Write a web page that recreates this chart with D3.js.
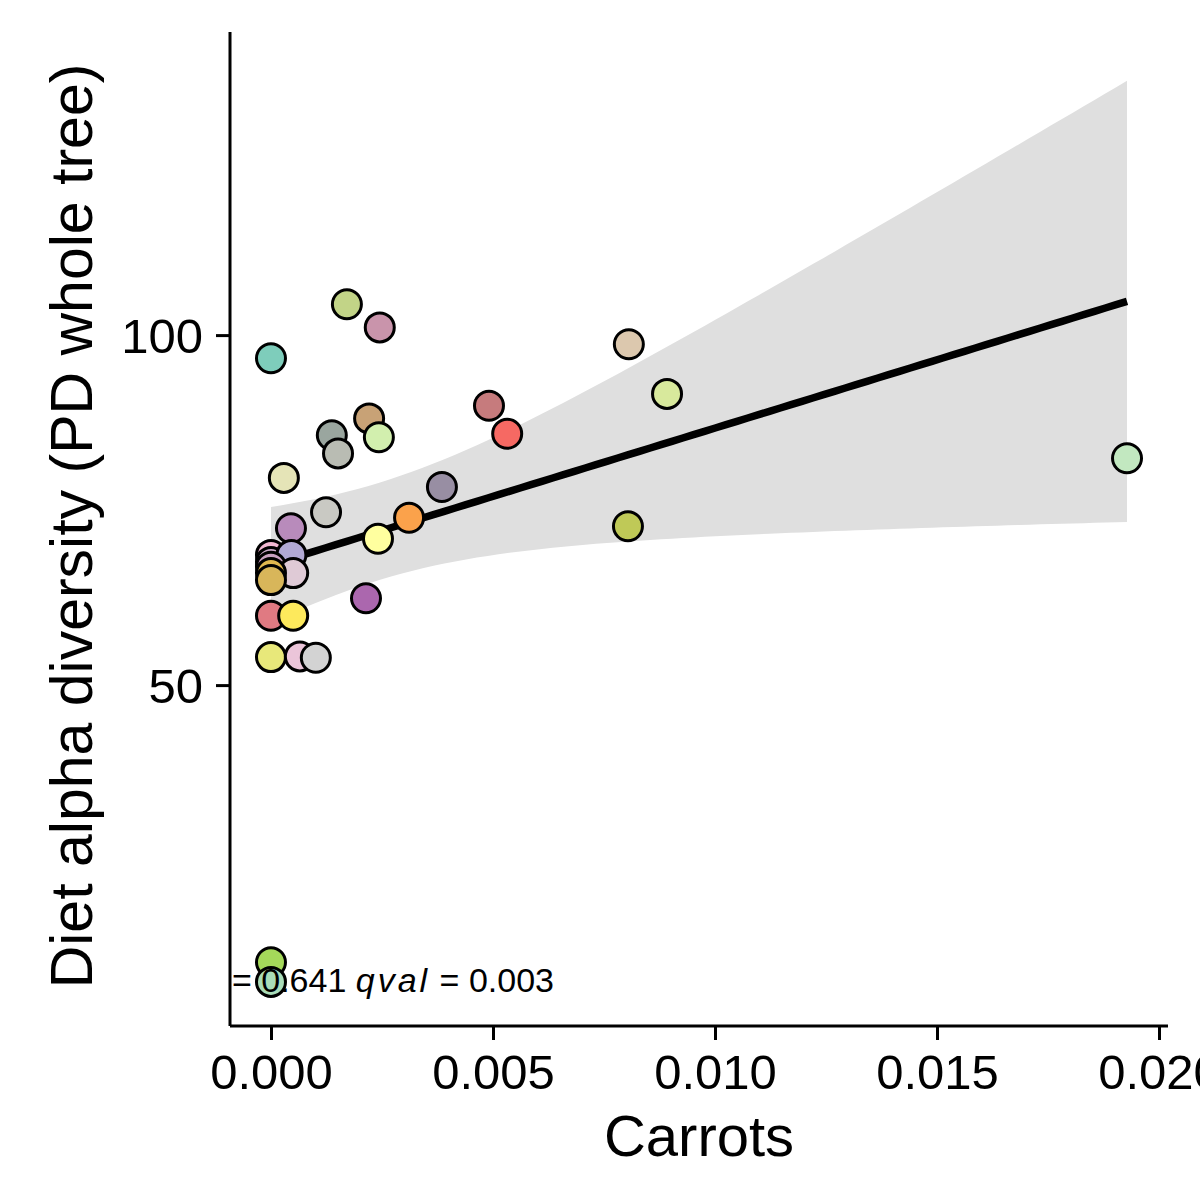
<!DOCTYPE html>
<html>
<head>
<meta charset="utf-8">
<script src="https://cdn.jsdelivr.net/npm/d3@7"></script>
<style>
  html, body { margin: 0; padding: 0; background: #fff; }
  svg { display: block; font-family: "Liberation Sans", Arial, sans-serif; }
</style>
</head>
<body>
<div id="chart"></div>
<script>
// carrot intake (fraction of diet) per subject
var carrots = [
  0.0000, 0.00171, 0.00245, 0.00221, 0.00243, 0.00137, 0.00151, 0.00029,
  0.00124, 0.00045, 0.00241, 0.00311, 0.00385, 0.00491, 0.00532, 0.00806,
  0.00892, 0.00804, 0.01928, 0.00214, 0.0000, 0.00050, 0.0000, 0.00065,
  0.00101, 0.0000, 0.0000, 0.0000, 0.0000, 0.00046, 0.0000, 0.00050,
  0.0000, 0.0000
];
// diet alpha diversity (PD whole tree) per subject
var diversity = [
  96.7, 104.4, 101.1, 88.1, 85.4, 85.7, 83.1, 79.6,
  74.7, 72.4, 70.9, 73.9, 78.3, 89.9, 85.9, 98.7,
  91.6, 72.7, 82.4, 62.4, 59.9, 59.9, 54.0, 54.1,
  53.9, 10.4, 7.6, 68.6, 67.6, 68.6, 66.9, 66.0,
  66.0, 65.0
];
// one fill colour per subject
var subjectFill = [
  "#7ecdbb", "#c2d487", "#c994ab", "#c8a276", "#d2efae", "#9aa69f", "#b9bcb3", "#e5e4b7",
  "#c9c9c3", "#b88bbb", "#ffff9f", "#fba24b", "#988ea3", "#c67b7d", "#f66963", "#dcc8ae",
  "#d8e99c", "#bfc957", "#c2e8c0", "#ab67ae", "#e07a82", "#fde95c", "#e8e87a", "#ebc5d9",
  "#d3d3d3", "#a5d95a", "#a9dcb8", "#f2b8d2", "#c9a9c8", "#b1a9d4", "#c8a0c0", "#dfcad6",
  "#e0b84f", "#d8b65a"
];
var xTicks = [0, 0.005, 0.010, 0.015, 0.020];
var yTicks = [50, 100];
var corrLabel = { r: "0.641", q: "0.003" };

var W = 1200, H = 1200;
var panel = { left: 230, right: 1168, top: 32, bottom: 1026 };

var svg = d3.select("#chart").append("svg")
    .attr("width", W)
    .attr("height", H);

var x = d3.scaleLinear().domain([-0.000923, 0.020203]).range([panel.left, panel.right]);
var y = d3.scaleLinear().domain([1.3, 143.3]).range([panel.bottom, panel.top]);

svg.append("clipPath").attr("id", "panelClip")
  .append("rect")
    .attr("x", panel.left).attr("y", panel.top)
    .attr("width", panel.right - panel.left)
    .attr("height", panel.bottom - panel.top);

// linear fit with 95% confidence band (like geom_smooth(method = "lm"))
var pts = carrots.map(function (c, i) { return { x: c, y: diversity[i], fill: subjectFill[i] }; });
var n = pts.length;
var xbar = d3.mean(pts, function (d) { return d.x; });
var ybar = d3.mean(pts, function (d) { return d.y; });
var sxx = d3.sum(pts, function (d) { return (d.x - xbar) * (d.x - xbar); });
var sxy = d3.sum(pts, function (d) { return (d.x - xbar) * (d.y - ybar); });
var slope = sxy / sxx;
var intercept = ybar - slope * xbar;
var sse = d3.sum(pts, function (d) { var r = d.y - (intercept + slope * d.x); return r * r; });
var sigma = Math.sqrt(sse / (n - 2));

function tQuantile975(df) {
  var z = 1.959964;
  var z3 = z * z * z, z5 = z3 * z * z, z7 = z5 * z * z;
  var g1 = (z3 + z) / 4;
  var g2 = (5 * z5 + 16 * z3 + 3 * z) / 96;
  var g3 = (3 * z7 + 19 * z5 + 17 * z3 - 15 * z) / 384;
  return z + g1 / df + g2 / (df * df) + g3 / (df * df * df);
}
var tq = tQuantile975(n - 2);

var xmin = d3.min(carrots), xmax = d3.max(carrots);
var fit = d3.range(80).map(function (i) {
  var xv = xmin + (xmax - xmin) * i / 79;
  var yv = intercept + slope * xv;
  var se = sigma * Math.sqrt(1 / n + (xv - xbar) * (xv - xbar) / sxx);
  return { x: xv, y: yv, lo: yv - tq * se, hi: yv + tq * se };
});

var plot = svg.append("g").attr("clip-path", "url(#panelClip)");

plot.append("path")
    .datum(fit)
    .attr("fill", "#dfdfdf")
    .attr("d", d3.area()
      .x(function (d) { return x(d.x); })
      .y0(function (d) { return y(d.lo); })
      .y1(function (d) { return y(d.hi); }));

plot.append("path")
    .datum(fit)
    .attr("fill", "none")
    .attr("stroke", "#000")
    .attr("stroke-width", 7.5)
    .attr("d", d3.line()
      .x(function (d) { return x(d.x); })
      .y(function (d) { return y(d.y); }));

plot.selectAll("circle.pt")
    .data(pts)
    .enter().append("circle")
    .attr("class", "pt")
    .attr("cx", function (d) { return x(d.x); })
    .attr("cy", function (d) { return y(d.y); })
    .attr("r", 14.5)
    .attr("fill", function (d) { return d.fill; })
    .attr("stroke", "#000")
    .attr("stroke-width", 3);

// correlation label, clipped by the panel on its left
var lab = plot.append("text")
    .attr("x", 554)
    .attr("y", 992)
    .attr("text-anchor", "end")
    .attr("font-size", 34)
    .attr("fill", "#000");
lab.append("tspan").attr("font-style", "italic").text("R");
lab.append("tspan").text(" = " + corrLabel.r + " ");
lab.append("tspan").attr("font-style", "italic").attr("letter-spacing", 3).text("qval");
lab.append("tspan").text(" = " + corrLabel.q);

// axes
var xAxis = svg.append("g")
    .attr("transform", "translate(0," + panel.bottom + ")")
    .call(d3.axisBottom(x).tickValues(xTicks).tickFormat(d3.format(".3f")).tickSize(14).tickSizeOuter(0));
var yAxis = svg.append("g")
    .attr("transform", "translate(" + panel.left + ",0)")
    .call(d3.axisLeft(y).tickValues(yTicks).tickFormat(d3.format("d")).tickSize(14).tickSizeOuter(0));

[xAxis, yAxis].forEach(function (ax) {
  ax.select(".domain").attr("stroke", "#000").attr("stroke-width", 3);
  ax.selectAll(".tick line").attr("stroke", "#000").attr("stroke-width", 3);
  ax.selectAll(".tick text")
    .attr("fill", "#000")
    .attr("font-size", 49)
    .attr("font-family", "Liberation Sans, Arial, sans-serif");
});
xAxis.select(".domain").attr("d", "M" + panel.left + ",0H" + panel.right);
yAxis.select(".domain").attr("d", "M0," + panel.top + "V" + panel.bottom);
xAxis.selectAll(".tick text").attr("dy", null).attr("y", 63);
yAxis.selectAll(".tick text").attr("x", -27).attr("dy", "0.36em");

// axis titles
svg.append("text")
    .attr("x", (panel.left + panel.right) / 2)
    .attr("y", 1156)
    .attr("text-anchor", "middle")
    .attr("font-size", 58)
    .attr("fill", "#000")
    .text("Carrots");

svg.append("text")
    .attr("transform", "translate(92,526) rotate(-90)")
    .attr("text-anchor", "middle")
    .attr("font-size", 59)
    .attr("fill", "#000")
    .text("Diet alpha diversity (PD whole tree)");
</script>
</body>
</html>
